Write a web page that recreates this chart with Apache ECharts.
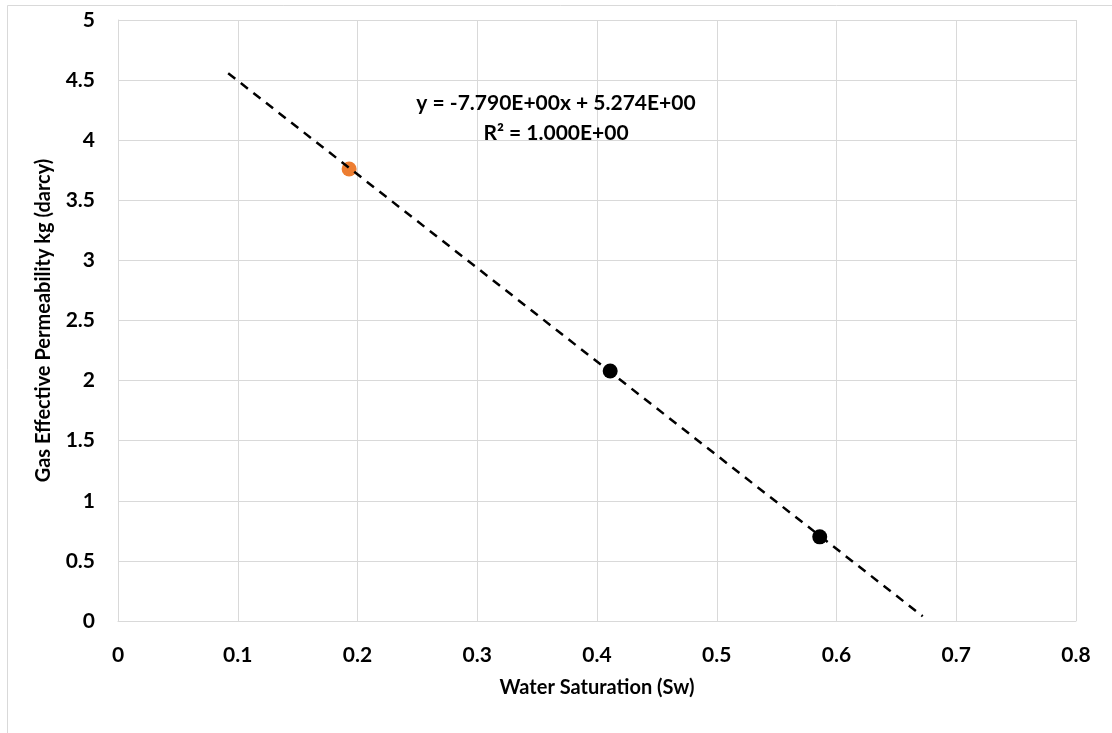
<!DOCTYPE html>
<html>
<head>
<meta charset="utf-8">
<script src="https://cdn.jsdelivr.net/npm/echarts@6/dist/echarts.min.js"></script>
<style>
  html, body { margin: 0; padding: 0; background: #fff; }
  #chart { width: 1112px; height: 733px; }
</style>
</head>
<body>
<div id="chart"></div>
<script>
// ---- data ----
var highlightPoint = [[0.193, 3.76]];                 // orange point
var measuredPoints = [[0.411, 2.08], [0.586, 0.70]];   // black points
var trendLine = [[0.092, 4.557], [0.672, 0.039]];      // dashed linear trendline ends
var equationLines = ['y = -7.790E+00x + 5.274E+00', 'R\u00B2 = 1.000E+00'];
var xTitle = 'Water Saturation (Sw)';
var yTitle = 'Gas Effective Permeability kg (darcy)';

var FONT = 'Lato';
var chart = echarts.init(document.getElementById('chart'), null, { renderer: 'canvas' });

chart.setOption({
  backgroundColor: '#ffffff',
  animation: false,
  grid: { left: 118, right: 36, top: 20, bottom: 112, containLabel: false },
  xAxis: {
    type: 'value',
    min: 0, max: 0.8, interval: 0.1,
    name: xTitle,
    nameLocation: 'middle',
    nameGap: 57,
    nameTextStyle: { fontFamily: FONT, fontWeight: 'bold', fontSize: 20, color: '#000' },
    axisLine: { show: true, lineStyle: { color: '#d9d9d9', width: 1 } },
    axisTick: { show: false },
    splitLine: { show: true, lineStyle: { color: '#d9d9d9', width: 1 } },
    axisLabel: { margin: 24, fontFamily: FONT, fontWeight: 'bold', fontSize: 21, color: '#000',
      formatter: function (v) { return String(+v.toFixed(1)); } }
  },
  yAxis: {
    type: 'value',
    min: 0, max: 5, interval: 0.5,
    name: yTitle,
    nameLocation: 'middle',
    nameGap: 64,
    nameRotate: 90,
    nameTextStyle: { fontFamily: FONT, fontWeight: 'bold', fontSize: 20, color: '#000' },
    axisLine: { show: true, lineStyle: { color: '#d9d9d9', width: 1 } },
    axisTick: { show: false },
    splitLine: { show: true, lineStyle: { color: '#d9d9d9', width: 1 } },
    axisLabel: { margin: 23, fontFamily: FONT, fontWeight: 'bold', fontSize: 21, color: '#000',
      formatter: function (v) { return String(+v.toFixed(1)); } }
  },
  graphic: [
    { type: 'rect', silent: true, z: -10,
      shape: { x: 7.5, y: 5.5, width: 1200, height: 800 },
      style: { fill: 'none', stroke: '#d9d9d9', lineWidth: 1 } },
    { type: 'text', x: 556, y: 103, z: 100,
      style: { text: equationLines[0], fontFamily: FONT, fontWeight: 'bold', fontSize: 21,
        fill: '#000', textAlign: 'center', textVerticalAlign: 'middle' } },
    { type: 'text', x: 556, y: 133, z: 100,
      style: { text: equationLines[1], fontFamily: FONT, fontWeight: 'bold', fontSize: 21,
        fill: '#000', textAlign: 'center', textVerticalAlign: 'middle' } }
  ],
  series: [
    { type: 'scatter', data: highlightPoint, symbol: 'circle', symbolSize: 15,
      itemStyle: { color: '#ED7D31', opacity: 1 }, z: 2 },
    { type: 'scatter', data: measuredPoints, symbol: 'circle', symbolSize: 15,
      itemStyle: { color: '#000000', opacity: 1 }, z: 4 },
    { type: 'line', data: trendLine, showSymbol: false, symbol: 'none', z: 3,
      lineStyle: { color: '#000', width: 2.5, type: [9, 7] } }
  ]
});
</script>
</body>
</html>
